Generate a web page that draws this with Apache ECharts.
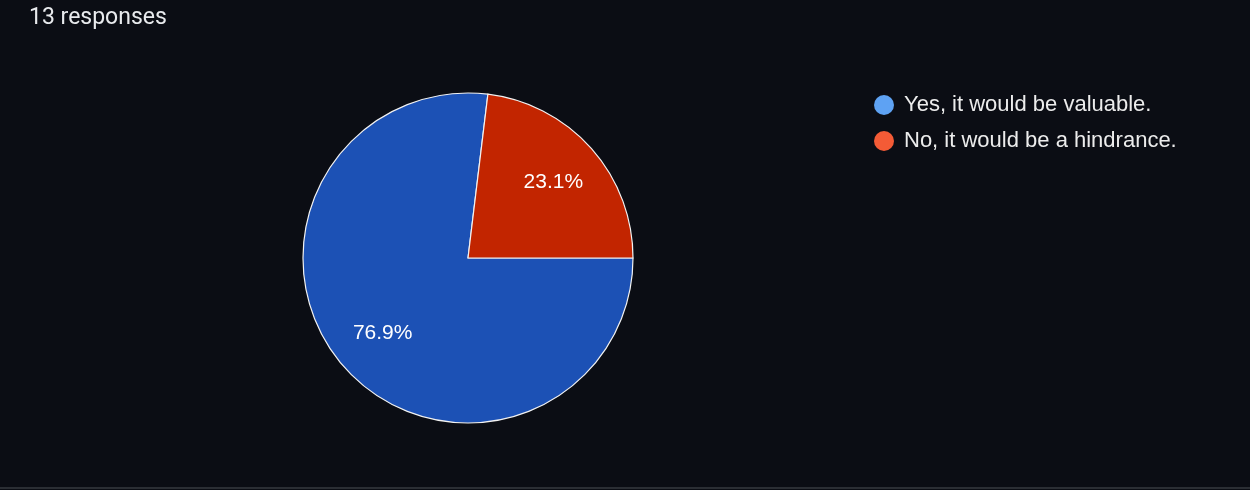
<!DOCTYPE html>
<html lang="en">
<head>
    <meta charset="UTF-8">
    <title>13 responses</title>
    <style>
        html, body { margin: 0; padding: 0; background: #0b0d14; }
        #chart { width: 1250px; height: 490px; }
    </style>
    <script src="https://cdn.jsdelivr.net/npm/echarts@6/dist/echarts.min.js"></script>
</head>
<body>
<div id="chart"></div>
<script>
    var answers = ['Yes, it would be valuable.', 'No, it would be a hindrance.'];
    var counts = [10, 3];
    var sliceColors = ['#1c51b5', '#c22500'];
    var legendColors = ['#5ea2f3', '#f45b36'];

    var pieData = [];
    var legendData = [];
    for (var i = 0; i < answers.length; i++) {
        pieData.push({ name: answers[i], value: counts[i], itemStyle: { color: sliceColors[i] } });
        legendData.push({ name: answers[i], itemStyle: { color: legendColors[i], borderWidth: 0 } });
    }

    var myChart = echarts.init(document.getElementById('chart'));
    var option = {
        backgroundColor: '#0b0d14',
        animation: false,
        title: {
            text: '13 responses',
            left: 29,
            top: 7,
            padding: 0,
            textStyle: {
                color: '#e8eaed',
                fontFamily: 'Roboto',
                fontWeight: 'normal',
                fontSize: 23
            }
        },
        legend: {
            orient: 'vertical',
            left: 874,
            top: 94,
            padding: 0,
            icon: 'circle',
            itemWidth: 20,
            itemHeight: 20,
            itemGap: 14,
            itemStyle: { borderWidth: 0 },
            textStyle: {
                color: '#ececec',
                fontFamily: 'Liberation Sans',
                fontSize: 22,
                lineHeight: 20,
                padding: [0, 0, 0, 5]
            },
            data: legendData
        },
        series: [{
            type: 'pie',
            center: [468, 258],
            radius: [0, 165],
            startAngle: 0,
            clockwise: true,
            label: { show: false },
            labelLine: { show: false },
            itemStyle: {
                borderColor: '#f2f2f2',
                borderWidth: 1.2
            },
            emphasis: { disabled: true },
            data: pieData
        }, {
            // transparent overlay only to place percentage labels further out
            type: 'pie',
            center: [468, 258],
            radius: [0, 222],
            startAngle: 0,
            clockwise: true,
            silent: true,
            percentPrecision: 1,
            itemStyle: { color: 'transparent', borderWidth: 0 },
            label: {
                show: true,
                position: 'inside',
                formatter: '{d}%',
                color: '#ffffff',
                fontFamily: 'Liberation Sans',
                fontSize: 21
            },
            labelLine: { show: false },
            emphasis: { disabled: true },
            data: pieData.map(function (d) { return { name: d.name, value: d.value, itemStyle: { color: 'transparent' } }; })
        }],
        graphic: [{
            type: 'rect',
            shape: { x: 0, y: 487, width: 1250, height: 2 },
            style: { fill: '#2b2e34' }
        }]
    };
    myChart.setOption(option);
</script>
</body>
</html>
